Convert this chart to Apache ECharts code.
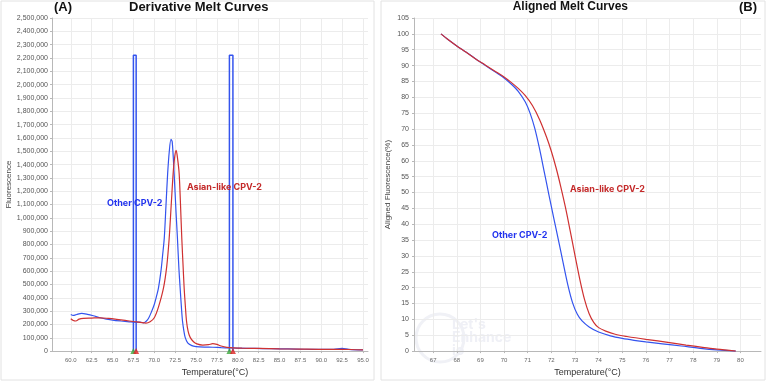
<!DOCTYPE html>
<html>
<head>
    <meta charset="utf-8">
    <title>Melt curves</title>
    <script src="https://cdn.jsdelivr.net/npm/echarts@6/dist/echarts.min.js"></script>
    <style>
        html, body { margin: 0; padding: 0; background: #fff; }
        #main { width: 767px; height: 382px; }
    </style>
</head>
<body>
<div id="main"></div>
<script>
    // (A) derivative melt curves, [temperature, fluorescence]
    var derivOther = [
        [60.0, 275000], [60.3, 268000], [60.7, 275000], [61.3, 283000], [62.0, 276000],
        [62.7, 265000], [63.5, 250000], [64.3, 240000], [65.0, 233000], [66.0, 226000],
        [67.0, 220000], [67.8, 216000], [68.3, 218000], [68.7, 212000], [69.0, 222000],
        [69.3, 245000], [69.6, 285000], [70.0, 350000], [70.3, 420000], [70.5, 472000],
        [70.8, 600000], [71.0, 720000], [71.2, 850000], [71.4, 1090000], [71.6, 1330000],
        [71.8, 1500000], [72.0, 1590000], [72.15, 1570000], [72.38, 1330000], [72.6, 1050000],
        [72.78, 841000], [72.95, 620000], [73.1, 472000], [73.25, 330000], [73.38, 226000],
        [73.55, 150000], [73.7, 103000], [74.0, 62000], [74.5, 41000], [75.0, 34000],
        [76.0, 30000], [77.0, 29000], [78.0, 26000], [79.0, 24000], [80.0, 22000],
        [82.0, 20000], [84.0, 18000], [86.0, 16000], [88.0, 14000], [90.0, 13000],
        [91.5, 14000], [92.5, 20000], [93.3, 13000], [95.0, 9000]
    ];
    var derivAsian = [
        [60.0, 243000], [60.3, 230000], [60.6, 226000], [61.0, 240000], [61.5, 246000],
        [62.5, 248000], [63.5, 250000], [64.5, 245000], [65.5, 238000], [66.5, 230000],
        [67.5, 222000], [68.3, 216000], [69.0, 210000], [69.5, 220000], [70.0, 250000],
        [70.5, 330000], [71.1, 472000], [71.5, 640000], [71.78, 841000], [72.02, 1087000],
        [72.26, 1333000], [72.45, 1460000], [72.62, 1506000], [72.78, 1450000], [72.98, 1333000],
        [73.15, 1087000], [73.3, 841000], [73.45, 640000], [73.58, 472000], [73.72, 340000],
        [73.86, 226000], [74.05, 150000], [74.3, 103000], [74.7, 70000], [75.1, 54000],
        [75.8, 45000], [76.5, 48000], [77.0, 56000], [77.5, 50000], [78.0, 38000],
        [78.7, 28000], [79.5, 24000], [80.5, 22000], [82.5, 20000], [85.0, 17000],
        [87.5, 15000], [90.0, 13000], [92.5, 14000], [95.0, 9000]
    ];
    // melt region bars (left edge, right edge, height)
    var regionBars = [[67.5, 67.83, 2220000], [79.0, 79.42, 2220000]];

    // (B) aligned melt curves, [temperature, %]
    var alignOther = [
        [67.33, 100], [67.6, 98.4], [68.0, 96.2], [68.4, 94.2], [68.8, 92.1], [69.2, 90.1],
        [69.6, 88.1], [70.0, 86.1], [70.3, 84.2], [70.6, 81.9], [70.9, 78.5], [71.1, 75.0],
        [71.3, 70.2], [71.5, 63.8], [71.7, 56.5], [71.9, 49.2], [72.1, 42.0], [72.3, 35.0],
        [72.5, 27.8], [72.7, 20.8], [72.9, 15.2], [73.1, 11.6], [73.3, 9.5], [73.6, 7.6],
        [74.0, 6.0], [74.5, 4.8], [75.0, 4.0], [75.5, 3.4], [76.0, 2.9], [76.7, 2.3],
        [77.5, 1.6], [78.4, 0.8], [79.0, 0.4], [79.8, 0]
    ];
    var alignAsian = [
        [67.33, 100], [67.6, 98.4], [68.0, 96.2], [68.4, 94.2], [68.8, 92.1], [69.2, 90.2],
        [69.6, 88.3], [70.0, 86.4], [70.3, 84.7], [70.6, 82.8], [70.9, 80.5], [71.2, 77.4],
        [71.5, 73.0], [71.8, 67.4], [72.0, 63.0], [72.2, 57.8], [72.4, 51.8], [72.6, 45.2],
        [72.8, 37.8], [73.0, 30.2], [73.2, 22.8], [73.4, 16.4], [73.6, 11.8], [73.8, 9.0],
        [74.0, 7.4], [74.3, 6.3], [74.7, 5.3], [75.2, 4.6], [76.0, 3.7], [77.0, 2.7],
        [77.7, 1.9], [78.4, 1.2], [79.0, 0.6], [79.8, 0]
    ];

    var ticksA = [60, 62.5, 65, 67.5, 70, 72.5, 75, 77.5, 80, 82.5, 85, 87.5, 90, 92.5, 95];
    var ticksB = [67, 68, 69, 70, 71, 72, 73, 74, 75, 76, 77, 78, 79, 80];

    var BLUE = '#3454ee';
    var RED = '#cf3131';
    var labelStyle = { fontSize: 7, color: '#555', fontFamily: 'Liberation Sans' };
    var gridLine = { show: true, lineStyle: { color: '#ececec', width: 1 } };
    var axisLine = { show: true, lineStyle: { color: '#b8b8b8' } };

    function barPath(b) {
        return [[b[0], 0], [b[0], b[2]], [b[1], b[2]], [b[1], 0]];
    }
    function curve(name, xi, data, color, z) {
        return { name: name, type: 'line', xAxisIndex: xi, yAxisIndex: xi, data: data,
            symbol: 'none', smooth: 0.3,
            lineStyle: { color: color, width: 1.2 }, z: z };
    }

    var myChart = echarts.init(document.getElementById('main'));
    myChart.setOption({
        animation: false,
        backgroundColor: '#fff',
        textStyle: { fontFamily: 'Liberation Sans' },
        grid: [
            { left: 52, right: 399, top: 18, bottom: 25 },
            { left: 414, right: 6, top: 18, bottom: 25 }
        ],
        xAxis: [{
            gridIndex: 0, type: 'value', min: 57.75, max: 95.6,
            name: 'Temperature(°C)', nameLocation: 'middle', nameGap: 12,
            nameTextStyle: { fontSize: 9, color: '#333', padding: [0, 0, 0, 10] },
            axisLine: axisLine,
            axisTick: { show: true, length: 2, customValues: ticksA, lineStyle: { color: '#b8b8b8' } },
            axisLabel: { fontSize: 6, color: '#666', margin: 6, customValues: ticksA,
                formatter: function (v) { return v.toFixed(1); } },
            splitLine: gridLine
        }, {
            gridIndex: 1, type: 'value', min: 66.19, max: 80.87,
            name: 'Temperature(°C)', nameLocation: 'middle', nameGap: 12,
            nameTextStyle: { fontSize: 9, color: '#333' },
            axisLine: axisLine,
            axisTick: { show: true, length: 2, customValues: ticksB, lineStyle: { color: '#b8b8b8' } },
            axisLabel: { fontSize: 6, color: '#666', margin: 6, customValues: ticksB },
            splitLine: gridLine
        }],
        yAxis: [{
            gridIndex: 0, type: 'value', min: 0, max: 2500000, interval: 100000,
            name: 'Fluorescence', nameLocation: 'middle', nameGap: 38, nameRotate: 90,
            nameTextStyle: { fontSize: 8, color: '#444' },
            axisLine: axisLine,
            axisTick: { show: true, length: 2, lineStyle: { color: '#b8b8b8' } },
            axisLabel: Object.assign({ margin: 4,
                formatter: function (v) { return v.toLocaleString('en-US'); } }, labelStyle),
            splitLine: gridLine
        }, {
            gridIndex: 1, type: 'value', min: 0, max: 105, interval: 5,
            name: 'Aligned Fluorescence(%)', nameLocation: 'middle', nameGap: 22, nameRotate: 90,
            nameTextStyle: { fontSize: 8, color: '#444' },
            axisLine: axisLine,
            axisTick: { show: true, length: 2, lineStyle: { color: '#b8b8b8' } },
            axisLabel: Object.assign({ margin: 5 }, labelStyle),
            splitLine: gridLine
        }],
        graphic: [
            { type: 'rect', shape: { x: 1, y: 1, width: 373, height: 379 }, z: -10,
              style: { fill: 'none', stroke: '#e2e2e2', lineWidth: 1 } },
            { type: 'rect', shape: { x: 381, y: 1, width: 384, height: 379 }, z: -10,
              style: { fill: 'none', stroke: '#e2e2e2', lineWidth: 1 } },
            { type: 'circle', shape: { cx: 440, cy: 338, r: 24 }, z: -5,
              style: { fill: 'none', stroke: '#f0f1f6', lineWidth: 3 } },
            { type: 'text', x: 452, y: 318, z: -5, style: { text: "Let's\nEnhance\nio",
              font: 'bold 14px Inter', lineHeight: 13, fill: '#eff0f6' } },
            { type: 'text', x: 54, y: 1, z: 100, style: { text: '(A)', font: 'bold 13px Liberation Sans', fill: '#111' } },
            { type: 'text', x: 129, y: 1, z: 100, style: { text: 'Derivative Melt Curves',
              font: 'bold 13px Liberation Sans', fill: '#111' } },
            { type: 'text', x: 628, y: 1, z: 100, style: { text: 'Aligned Melt Curves', textAlign: 'right',
              font: 'bold 12px Liberation Sans', fill: '#111' } },
            { type: 'text', x: 739, y: 1, z: 100, style: { text: '(B)', font: 'bold 13px Liberation Sans', fill: '#111' } },
            { type: 'text', x: 107, y: 199, z: 100, style: { text: 'Other CPV-2', font: 'bold 9px Inter', fill: '#2233ee' } },
            { type: 'text', x: 187, y: 183, z: 100, style: { text: 'Asian-like CPV-2', font: 'bold 9px Inter', fill: '#c42a2a' } },
            { type: 'text', x: 492, y: 231, z: 100, style: { text: 'Other CPV-2', font: 'bold 9px Inter', fill: '#2233ee' } },
            { type: 'text', x: 570, y: 185, z: 100, style: { text: 'Asian-like CPV-2', font: 'bold 9px Inter', fill: '#c42a2a' } }
        ],
        series: [
            { type: 'line', xAxisIndex: 0, yAxisIndex: 0, data: barPath(regionBars[0]), symbol: 'none',
              lineStyle: { color: BLUE, width: 1.5 }, z: 3 },
            { type: 'line', xAxisIndex: 0, yAxisIndex: 0, data: barPath(regionBars[1]), symbol: 'none',
              lineStyle: { color: BLUE, width: 1.5 }, z: 3 },
            { type: 'scatter', xAxisIndex: 0, yAxisIndex: 0, symbol: 'triangle', symbolSize: 6,
              data: [[regionBars[0][0], 0], [regionBars[1][0], 0]], itemStyle: { color: '#3aa83a' }, z: 4 },
            { type: 'scatter', xAxisIndex: 0, yAxisIndex: 0, symbol: 'triangle', symbolSize: 6,
              data: [[regionBars[0][1], 0], [regionBars[1][1], 0]], itemStyle: { color: '#dd2222' }, z: 5 },
            curve('Other CPV-2', 0, derivOther, BLUE, 6),
            curve('Asian-like CPV-2', 0, derivAsian, RED, 7),
            curve('Other CPV-2', 1, alignOther, BLUE, 6),
            curve('Asian-like CPV-2', 1, alignAsian, RED, 7)
        ]
    });
</script>
</body>
</html>
